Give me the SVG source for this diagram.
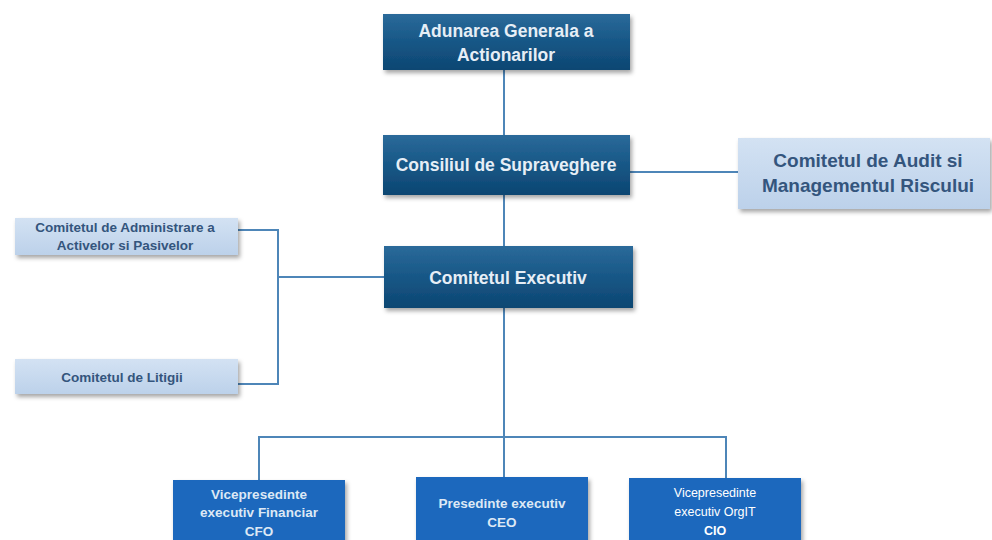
<svg xmlns="http://www.w3.org/2000/svg" width="992" height="540" viewBox="0 0 992 540">
<defs>
<linearGradient id="dark" x1="0" y1="0" x2="0" y2="1">
<stop offset="0" stop-color="#2b6a9a"/>
<stop offset="0.5" stop-color="#175786"/>
<stop offset="1" stop-color="#0d4672"/>
</linearGradient>
<linearGradient id="light" x1="0" y1="0" x2="0" y2="1">
<stop offset="0" stop-color="#d3e2f3"/>
<stop offset="1" stop-color="#bcd1ea"/>
</linearGradient>
<filter id="sh" x="-10%" y="-10%" width="125%" height="140%">
<feDropShadow dx="2" dy="3" stdDeviation="2" flood-color="#000" flood-opacity="0.35"/>
</filter>
</defs>
<style>
.dark{fill:url(#dark);filter:url(#sh)}
.light{fill:url(#light);filter:url(#sh)}
.blue{fill:#1a68bd}
.dt{font-family:"Liberation Sans",Arial,sans-serif;font-weight:bold;font-size:17.5px;fill:#e6eef6;text-anchor:middle}
.lt{font-family:"Liberation Sans",Arial,sans-serif;font-weight:bold;fill:#34557d;text-anchor:middle}
.bt{font-family:"Liberation Sans",Arial,sans-serif;font-weight:bold;font-size:13.5px;fill:#dde8f5;text-anchor:middle}
.ct{font-family:"Liberation Sans",Arial,sans-serif;font-size:12.5px;fill:#ffffff;text-anchor:middle}
.conn{fill:none;stroke:#4e86b8;stroke-width:2}
</style>
<g id="connectors">
<line class="conn" x1="504" y1="70" x2="504" y2="135"/>
<line class="conn" x1="504" y1="195" x2="504" y2="246"/>
<line class="conn" x1="630" y1="172" x2="738" y2="172"/>
<polyline class="conn" points="238,230 278,230 278,384 238,384"/>
<line class="conn" x1="278" y1="277" x2="384" y2="277"/>
<line class="conn" x1="504" y1="308" x2="504" y2="478"/>
<polyline class="conn" points="259,480 259,437 726,437 726,478"/>
</g>
<g id="adunarea">
<rect class="dark" x="383" y="14" width="247" height="56"/>
<text class="dt" x="506" y="37">Adunarea Generala a</text>
<text class="dt" x="506" y="61">Actionarilor</text>
</g>
<g id="consiliul">
<rect class="dark" x="383" y="135" width="247" height="60"/>
<text class="dt" x="506" y="171">Consiliul de Supraveghere</text>
</g>
<g id="audit">
<rect class="light" x="738" y="138" width="252" height="71"/>
<text class="lt" font-size="19" x="868" y="167">Comitetul de Audit si</text>
<text class="lt" font-size="19" x="868" y="192">Managementul Riscului</text>
</g>
<g id="executiv">
<rect class="dark" x="384" y="246" width="249" height="62"/>
<text class="dt" x="508" y="284">Comitetul Executiv</text>
</g>
<g id="administrare">
<rect class="light" x="15" y="218" width="223" height="37"/>
<text class="lt" font-size="13.5" x="125" y="232">Comitetul de Administrare a</text>
<text class="lt" font-size="13.5" x="125" y="250">Activelor si Pasivelor</text>
</g>
<g id="litigii">
<rect class="light" x="15" y="359" width="223" height="35"/>
<text class="lt" font-size="13.5" x="122" y="382">Comitetul de Litigii</text>
</g>
<g id="cfo">
<rect class="blue" x="173" y="480" width="172" height="64" filter="url(#sh)"/>
<text class="bt" x="259" y="499">Vicepresedinte</text>
<text class="bt" x="259" y="517">executiv Financiar</text>
<text class="bt" x="259" y="536">CFO</text>
</g>
<g id="ceo">
<rect class="blue" x="416" y="477" width="172" height="67" filter="url(#sh)"/>
<text class="bt" x="502" y="508">Presedinte executiv</text>
<text class="bt" x="502" y="527">CEO</text>
</g>
<g id="cio">
<rect class="blue" x="629" y="478" width="172" height="66" filter="url(#sh)"/>
<text class="ct" x="715" y="497">Vicepresedinte</text>
<text class="ct" x="715" y="516">executiv OrgIT</text>
<text class="ct" x="715" y="535" font-weight="bold" font-size="14">CIO</text>
</g>
</svg>
